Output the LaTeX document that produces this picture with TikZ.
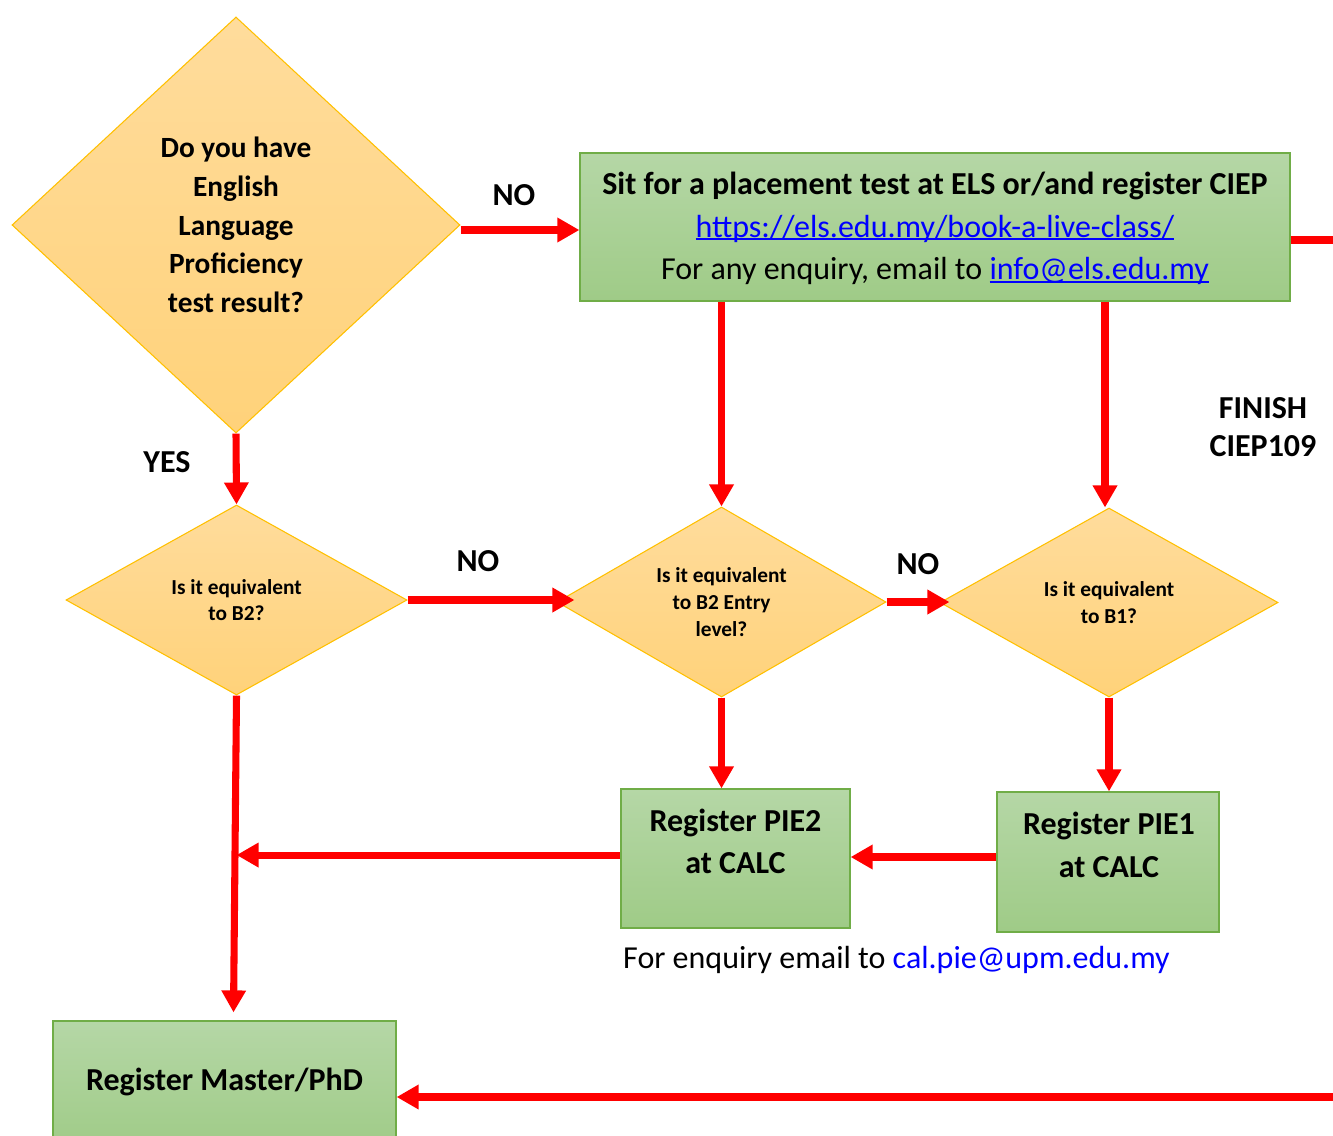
\documentclass[tikz,border=0pt]{standalone}
\usepackage{fontspec}
\setmainfont{Carlito}
\usetikzlibrary{shapes.geometric,arrows.meta}
\definecolor{dfillT}{HTML}{FFDC9C}
\definecolor{dfillB}{HTML}{FFD27A}
\definecolor{dborder}{HTML}{FFC000}
\definecolor{gT}{HTML}{B5D7A6}
\definecolor{gB}{HTML}{9FCB87}
\definecolor{gborder}{HTML}{70AD47}
\definecolor{arrred}{HTML}{FF0000}
\definecolor{linkblue}{HTML}{0000FF}
\newcommand\myul[1]{\setbox0\hbox{#1}\rlap{\rule[-2.4pt]{\wd0}{1.4pt}}\box0}
\begin{document}
\begin{tikzpicture}[x=0.75pt,y=-0.75pt,
  dia/.style={diamond,draw=dborder,line width=0.8pt,top color=dfillT,bottom color=dfillB,inner sep=0pt,align=center},
  gbox/.style={rectangle,draw=gborder,line width=0.9pt,top color=gT,bottom color=gB,inner sep=0pt},
  arr/.style={draw=arrred,line width=5.3pt,-{Triangle[width=17.5pt,length=16.5pt]}},
  ln/.style={draw=arrred,line width=5.3pt},
  lbl/.style={font=\bfseries\fontsize{24pt}{29pt}\selectfont,align=center,inner sep=0pt},
  big/.style={font=\fontsize{24pt}{32pt}\selectfont,align=center,inner sep=0pt},
  small/.style={font=\bfseries\fontsize{16pt}{20pt}\selectfont}
]
\useasboundingbox (0,0) rectangle (1333,1135);
\clip (0,0) rectangle (1333,1135);
\fill[white] (0,0) rectangle (1333,1135);

% decisions
\node[dia,aspect=1.08,minimum width=448*0.75pt,minimum height=416*0.75pt,
  font=\bfseries\fontsize{22pt}{29pt}\selectfont] (q0) at (236,225)
  {\rule{0pt}{6pt}Do you have\\English\\Language\\Proficiency\\test result?};
\node[dia,small,aspect=1.73,minimum width=341*0.75pt,minimum height=190*0.75pt] (d1) at (236.5,600)
  {Is it equivalent\\to B2?};
\node[dia,small,aspect=1.73,minimum width=329*0.75pt,minimum height=190*0.75pt] (d2) at (721.5,602)
  {Is it equivalent\\to B2 Entry\\level?};
\node[dia,small,aspect=1.73,minimum width=338*0.75pt,minimum height=189*0.75pt] (d3) at (1109,602.5)
  {Is it equivalent\\to B1?};

% boxes
\node[gbox,minimum width=710*0.75pt,minimum height=148*0.75pt] (els) at (935,227) {};
\node[big] (elst) at (935,228.5)
  {\textbf{Sit for a placement test at ELS or/and register CIEP}\\
   \textcolor{linkblue}{\myul{https://els.edu.my/book-a-live-class/}}\\
   For any enquiry, email to \textcolor{linkblue}{\myul{info@els.edu.my}}};
\node[gbox,minimum width=229*0.75pt,minimum height=139*0.75pt] (pie2) at (735.5,858.5) {};
\node[lbl,font=\bfseries\fontsize{24pt}{32pt}\selectfont] (pie2t) at (735.5,841.5) {Register PIE2\\at CALC};
\node[gbox,minimum width=222*0.75pt,minimum height=140*0.75pt] (pie1) at (1108,862) {};
\node[lbl,font=\bfseries\fontsize{24pt}{32pt}\selectfont] (pie1t) at (1109,845) {Register PIE1\\at CALC};
\node[gbox,minimum width=343*0.75pt,minimum height=129*0.75pt] (master) at (224.5,1085.5) {};
\node[lbl] (mastert) at (224.5,1082) {Register Master/PhD};

% labels
\node[lbl] (no1) at (514,195) {NO};
\node[lbl] (yes) at (167,462) {YES};
\node[lbl] (no2) at (478,561) {NO};
\node[lbl] (no3) at (918,564) {NO};
\node[lbl] (finish) at (1263,427) {FINISH\\CIEP109};
\node[font=\fontsize{24pt}{29pt}\selectfont,inner sep=0pt] (enq) at (896.5,960)
  {For enquiry email to \textcolor{linkblue}{cal.pie@upm.edu.my}};

% free ends
\coordinate (exitR) at (1345,240);
\coordinate (exitB) at (1345,1097);

% connectors
\draw[arr] ([yshift=-3.75pt]q0.east) -- ([yshift=-3.75pt]q0.east -| els.west);
\draw[ln] (els.east |- exitR) -- (exitR);
\draw[arr] (els.south -| d2.north) -- (d2.north);
\draw[arr] ([xshift=-3pt]els.south -| d3.north) -- ([xshift=-3pt]d3.north);
\draw[arr] (q0.south) -- (d1.north);
\draw[arr] (d1.east) -- ([xshift=13.5pt]d1.east -| d2.west);
\draw[arr] (d2.east) -- ([xshift=7.5pt]d2.east -| d3.west);
\draw[arr] (d1.south) -- ([xshift=-2.25pt,yshift=6pt]d1.south |- master.north);
\draw[arr] (d2.south) -- (d2.south |- pie2.north);
\draw[arr] (d3.south) -- (d3.south |- pie1.north);
\draw[arr] ([yshift=3.75pt]pie1.west) -- ([yshift=3.75pt]pie1.west -| pie2.east);
\draw[arr] ([yshift=2.6pt]pie2.west) -- ([yshift=2.6pt]pie2.west -| d1.south);
\draw[arr] (exitB) -- (exitB -| master.east);
\end{tikzpicture}
\end{document}
